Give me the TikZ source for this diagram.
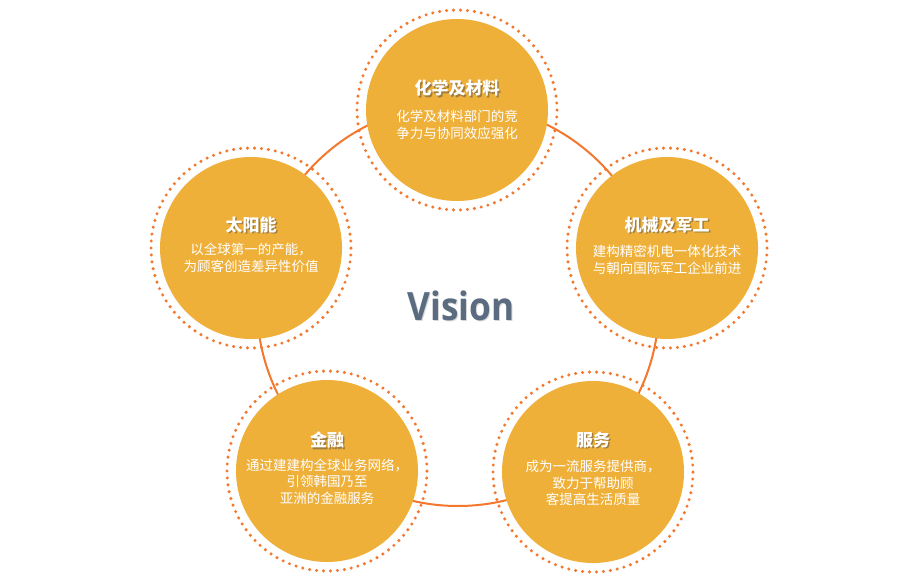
\documentclass[tikz,border=0pt]{standalone}
\usepackage{fontspec}
\newfontfamily\cjk{Noto Sans CJK SC}
\newfontfamily\visionfont{Open Sans}
\definecolor{bubblefill}{RGB}{239,176,58}
\definecolor{ringorange}{RGB}{243,120,45}
\definecolor{visiongrey}{RGB}{91,108,128}
\tikzset{
  bubble/.style={circle, fill=bubblefill, minimum size=182pt, inner sep=0pt},
  dotring/.style={draw=ringorange, line width=3.4pt, line cap=round, dash pattern=on 0pt off 6.981pt},
  conn/.style={draw=ringorange, line width=2pt},
  titletext/.style={text=white, font=\cjk\bfseries\fontsize{17}{20}\selectfont, inner sep=0pt},
  titleshadow/.style={text=black!75, opacity=0.45, font=\cjk\bfseries\fontsize{17}{20}\selectfont, inner sep=0pt},
  bodytext/.style={text=white, align=center, font=\cjk\fontsize{13.5}{16.7}\selectfont, inner sep=0pt},
}
\newcommand\mybubble[7]{%
  \node[bubble] (#1) at (#2,#3) {};
  \draw[dotring] (#1.center) circle [radius=100pt];
  \node[titleshadow] (#1-ts) at ($(#2,#3)+(1.5,#4+1.5)$) {#5};
  \node[titletext] (#1-t) at ($(#2,#3)+(0,#4)$) {#5};
  \node[bodytext] (#1-b) at ($(#2,#3)+(0,#6)$) {#7};
}
\usetikzlibrary{calc}
\begin{document}
\begin{tikzpicture}[x=1pt,y=-1pt]
\useasboundingbox (0,0) rectangle (920,575);
\fill[white] (0,0) rectangle (920,575);
\coordinate (ringc) at (458,305);
\draw[conn] (ringc) circle [radius=201pt];
\mybubble{chem}{457}{110}{-22}{化学及材料}{15}{化学及材料部门的竞\\争力与协同效应强化}
\mybubble{solar}{251}{248}{-23}{太阳能}{10}{以全球第一的产能，\\为顾客创造差异性价值}
\mybubble{mech}{667}{248}{-23}{机械及军工}{12}{建构精密机电一体化技术\\与朝向国际军工企业前进}
\mybubble{fin}{327}{471}{-31}{金融}{10.5}{通过建建构全球业务网络，\\引领韩国乃至\\亚洲的金融服务}
\mybubble{serv}{593}{472}{-32}{服务}{11}{成为一流服务提供商，\\致力于帮助顾\\客提高生活质量}
\node[text=black!40, opacity=0.4, inner sep=0pt] (visionsh) at (462,307) {\scalebox{0.9}[1]{\visionfont\bfseries\fontsize{39}{39}\selectfont Vision}};
\node[text=visiongrey, inner sep=0pt] (vision) at (461,306) {\scalebox{0.9}[1]{\visionfont\bfseries\fontsize{39}{39}\selectfont Vision}};
\end{tikzpicture}
\end{document}
